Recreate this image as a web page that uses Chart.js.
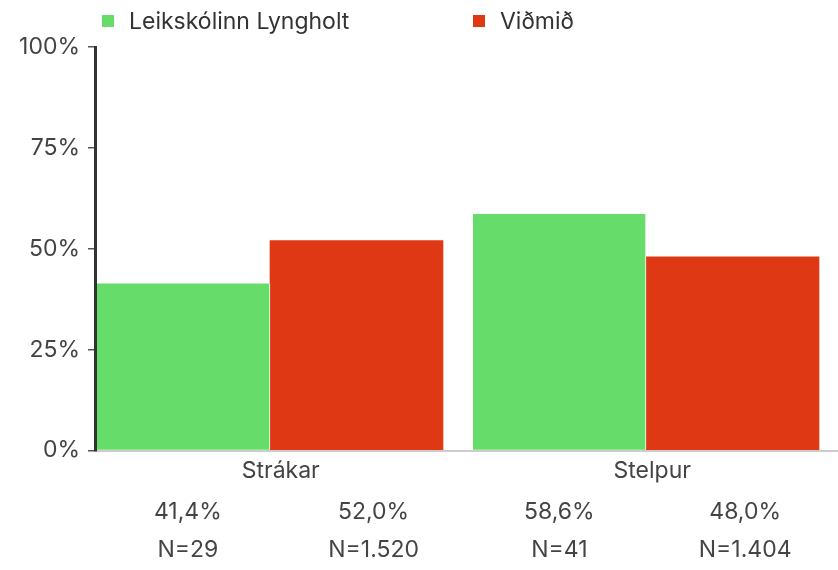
<!DOCTYPE html>
<html lang="is">
<head>
	<meta charset="UTF-8" />
	<title>Leikskólinn Lyngholt</title>
	<script src="https://cdn.jsdelivr.net/npm/chart.js@4"></script>
	<style>
		body { margin: 0; background: #fff; }
		#wrap { position: relative; width: 838px; height: 570px; }
		#legend { position: absolute; top: 0; left: 0; width: 838px; height: 46px; font: 23px Inter, sans-serif; color: #333; }
		#legend .item { position: absolute; top: 7px; display: flex; align-items: center; }
		#legend .box { width: 12px; height: 12px; margin-right: 15px; }
	</style>
</head>
<body>
	<div id="wrap">
		<canvas id="chart" width="838" height="570"></canvas>
		<div id="legend"></div>
	</div>
	<script>
		const categories = ['Strákar', 'Stelpur'];
		const seriesNames = ['Leikskólinn Lyngholt', 'Viðmið'];
		const schoolValues = [41.4, 58.6];
		const benchmarkValues = [52.0, 48.0];
		const schoolN = [29, 41];
		const benchmarkN = [1520, 1404];
		const yTicks = [0, 25, 50, 75, 100];

		const GREEN = '#66dc6a';
		const RED = '#de3914';

		function pct(v) {
			return v.toFixed(1).replace('.', ',') + '%';
		}

		function thousands(n) {
			return String(n).replace(/\B(?=(\d{3})+(?!\d))/g, '.');
		}

		// one label per bar, in bar order: green, red, green, red
		const barLabels = [];
		categories.forEach((c, i) => {
			barLabels.push([pct(schoolValues[i]), 'N=' + thousands(schoolN[i])]);
			barLabels.push([pct(benchmarkValues[i]), 'N=' + thousands(benchmarkN[i])]);
		});

		// legend as html
		const legend = document.getElementById('legend');
		const legendLeft = [102, 473];
		[GREEN, RED].forEach((color, i) => {
			const item = document.createElement('div');
			item.className = 'item';
			item.style.left = legendLeft[i] + 'px';
			item.innerHTML = `<span class="box" style="background:${color}"></span><span>${seriesNames[i]}</span>`;
			legend.appendChild(item);
		});

		Chart.defaults.font.family = 'Inter, sans-serif';
		Chart.defaults.font.size = 23;
		Chart.defaults.color = '#444';

		new Chart(document.getElementById('chart'), {
			type: 'bar',
			data: {
				datasets: [
					{
						label: seriesNames[0],
						data: schoolValues.map((v, i) => ({ x: i, y: v })),
						backgroundColor: GREEN,
						borderColor: '#fff',
						borderWidth: { right: 1, left: 0, top: 0, bottom: 0 },
						xAxisID: 'xb',
					},
					{
						label: seriesNames[1],
						data: benchmarkValues.map((v, i) => ({ x: i, y: v })),
						backgroundColor: RED,
						borderWidth: 0,
						xAxisID: 'xb',
					},
				],
			},
			options: {
				responsive: false,
				animation: false,
				layout: { padding: { top: 47, right: 0, bottom: 0, left: 0 } },
				barThickness: 173,
				plugins: {
					legend: { display: false },
					tooltip: { enabled: false },
				},
				scales: {
					// hidden numeric axis that places the bar groups
					xb: {
						type: 'linear',
						display: false,
						offset: false,
						min: -0.4654,
						max: 1.5106,
					},
					x: {
						type: 'category',
						position: 'bottom',
						labels: categories,
						offset: true,
						grid: { display: false, drawTicks: false },
						border: { display: true, color: '#cccccc', width: 2 },
						ticks: { padding: 7, color: '#444' },
					},
					xs: {
						type: 'category',
						position: 'bottom',
						labels: barLabels,
						offset: true,
						grid: { display: false, drawTicks: false },
						border: { display: false },
						ticks: { padding: 1, color: '#444', font: { lineHeight: 1.65 } },
					},
					y: {
						min: 0,
						max: 100,
						afterBuildTicks: scale => {
							scale.ticks = yTicks.map(v => ({ value: v }));
						},
						afterFit: scale => {
							scale.width = 95;
						},
						grid: {
							drawOnChartArea: false,
							tickLength: 7,
							color: '#555',
							lineWidth: 1.5,
						},
						border: { display: true, color: '#333', width: 3 },
						ticks: {
							padding: 8,
							color: '#444',
							callback: v => v + '%',
						},
					},
				},
			},
		});
	</script>
</body>
</html>
